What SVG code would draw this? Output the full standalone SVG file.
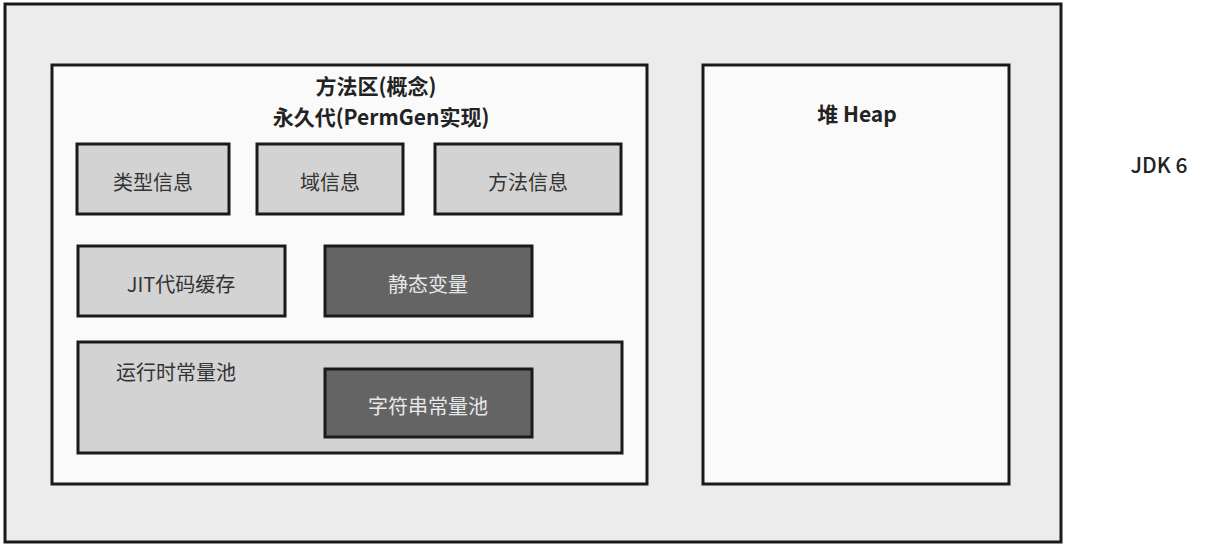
<svg xmlns="http://www.w3.org/2000/svg" width="1205" height="549" viewBox="0 0 1205 549">
<style>
text{font-family:"Noto Sans CJK SC","Noto Sans",sans-serif;text-anchor:middle;dominant-baseline:central}
.b{stroke:#1a1a1a;stroke-width:3}
.l{fill:#d3d3d3}
.d{fill:#646464}
.t{font-size:20px;fill:#333}
.w{font-size:20px;fill:#e8e8e8}
.h{font-size:21px;font-weight:bold;fill:#222}
</style>
<rect width="1205" height="549" fill="#fff"/>
<g id="outer"><rect x="5" y="4" width="1056" height="538" fill="#ececec" class="b"/></g>
<g id="method-area">
<rect x="52" y="65" width="595" height="419" fill="#fafafa" class="b"/>
<text x="376" y="85" class="h">方法区(概念)</text>
<text x="381" y="116" class="h">永久代(PermGen实现)</text>
</g>
<g id="n1"><rect x="77" y="144" width="152" height="70" class="b l"/><text x="153" y="181" class="t">类型信息</text></g>
<g id="n2"><rect x="257" y="144" width="146" height="70" class="b l"/><text x="330" y="181" class="t">域信息</text></g>
<g id="n3"><rect x="435" y="144" width="186" height="70" class="b l"/><text x="528" y="181" class="t">方法信息</text></g>
<g id="n4"><rect x="78" y="246" width="207" height="70" class="b l"/><text x="181" y="283" class="t">JIT代码缓存</text></g>
<g id="n5"><rect x="325" y="246" width="207" height="70" class="b d"/><text x="428" y="283" class="w">静态变量</text></g>
<g id="n6"><rect x="78" y="342" width="544" height="111" class="b l"/><text x="176" y="371" class="t">运行时常量池</text></g>
<g id="n7"><rect x="325" y="369" width="207" height="68" class="b d"/><text x="428" y="405" class="w">字符串常量池</text></g>
<g id="heap"><rect x="703" y="65" width="306" height="419" fill="#fafafa" class="b"/><text x="857" y="113" class="h">堆 Heap</text></g>
<g id="label"><text x="1159" y="164" class="h" style="font-weight:500">JDK 6</text></g>
<g id="connectors"></g>
</svg>
